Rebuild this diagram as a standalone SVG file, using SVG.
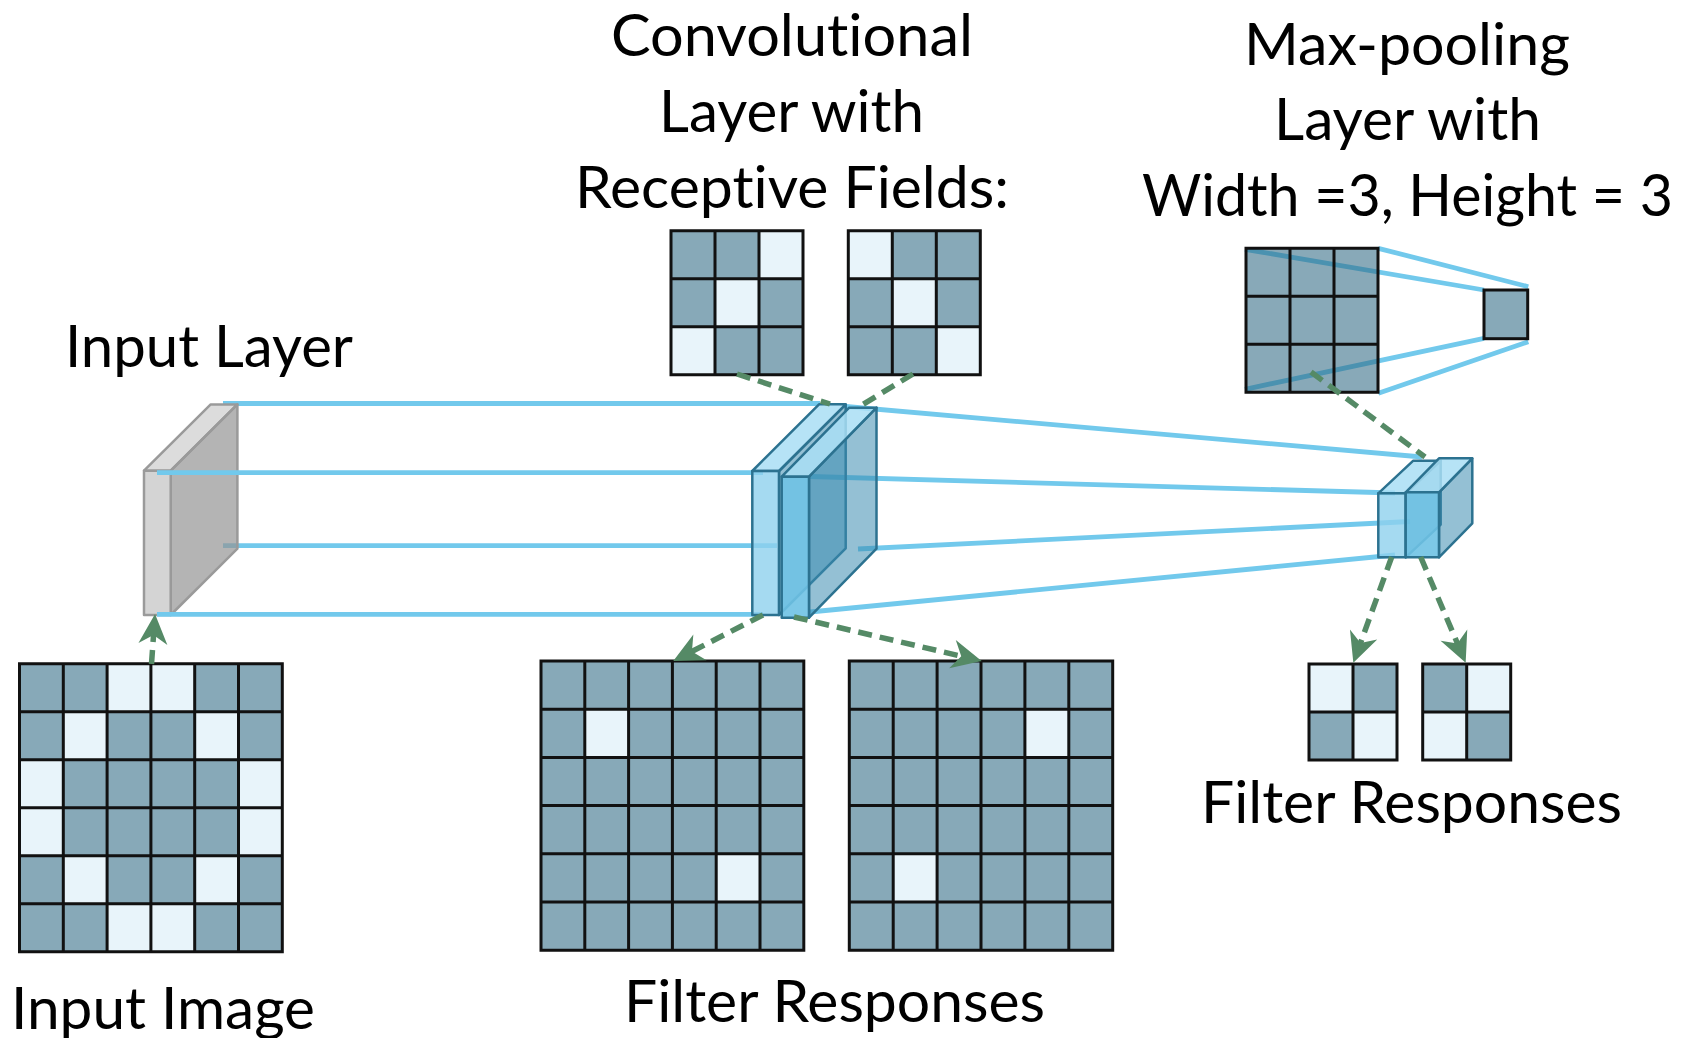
<svg xmlns="http://www.w3.org/2000/svg" width="1692" height="1038" viewBox="0 0 1692 1038">
<style>
text{font-family:Lato,"Liberation Sans",sans-serif;font-size:58px;fill:#000;font-variant-ligatures:none;font-feature-settings:"liga" 0,"clig" 0}
.dk{fill:#87a9b8}
.dkt{fill:#2d6883;fill-opacity:.57}
.lt{fill:#e8f4fa}
.gl{fill:none;stroke:#111;stroke-width:3}
.bl{stroke:#72c9ec;stroke-width:4.8;fill:none}
.gd{stroke:#558a66;stroke-width:5.5;stroke-dasharray:14 8;fill:none}
.arr{marker-end:url(#ah)}
.gr{stroke:#9a9a9a;stroke-width:2.5;stroke-linejoin:round}
.sl{stroke:#2c7290;stroke-width:2.5;stroke-linejoin:round}
.g-top{fill:#dcdcdc}
.g-front{fill:#d4d4d4}
.g-side{fill:#949494;fill-opacity:.7}
.b-side{fill:#3d8db0;fill-opacity:.55}
.b-top{fill:#a9def4;fill-opacity:.85}
.b-front1{fill:#8ed1ee;fill-opacity:.8}
.b-front2{fill:#6fc2e4;fill-opacity:.9}
</style>
<defs>
<marker id="ah" viewBox="-16 -15 34 30" refX="0" refY="0" markerWidth="34" markerHeight="30" markerUnits="userSpaceOnUse" orient="auto">
<path d="M16,0 L-14,-14.5 L-5,0 L-14,14.5Z" fill="#558a66"/>
</marker>
</defs>
<rect width="1692" height="1038" fill="#fff"/>

<!-- blue projection lines that sit behind the layer blocks -->
<g id="links-back">
<path class="bl" d="M223,403.5 H820"/>
<path class="bl" d="M223,545.7 H777"/>
<path class="bl" d="M846,406.5 L1422,457"/>
<path class="bl" d="M810,476.5 L1395,493"/>
<path class="bl" d="M858,549 L1410,521.5"/>
<path class="bl" d="M810,612 L1395,555"/>
<path class="bl" d="M1245,249.3 L1484,290"/>
<path class="bl" d="M1378.3,248.3 L1528.3,286.7"/>
<path class="bl" d="M1245,389.3 L1484,338.3"/>
<path class="bl" d="M1378.3,393.3 L1528.3,341.7"/>
</g>

<!-- input layer block -->
<g id="input-layer">
<polygon class="gr g-top" points="144,470.7 170.7,470.7 237.4,404.4 210.7,404.4"/>
<polygon class="gr g-side" points="170.7,470.7 237.4,404.4 237.4,548.7 170.7,615"/>
<rect class="gr g-front" x="144" y="470.7" width="26.7" height="144.3"/>
</g>

<g id="links-front">
<path class="bl" d="M157,472.7 H763"/>
<path class="bl" d="M157,614.3 H763"/>
</g>

<!-- convolutional layer: two feature-map slabs -->
<g id="conv-layer">
<polygon class="sl b-side" points="779,471 845.7,404.3 845.7,548.3 779,615"/>
<polygon class="sl b-top" points="752.3,471 779,471 845.7,404.3 819,404.3"/>
<rect class="sl b-front1" x="752.3" y="471" width="26.7" height="144"/>
<polygon class="sl b-side" points="809,476.7 876.5,407.7 876.5,548.7 809,617.7"/>
<polygon class="sl b-top" points="781.7,476.7 809,476.7 876.5,407.7 849.2,407.7"/>
<rect class="sl b-front2" x="781.7" y="476.7" width="27.3" height="141"/>
</g>

<!-- max-pooling layer: two small slabs -->
<g id="pool-layer">
<polygon class="sl b-side" points="1405.7,493.3 1440.7,460.7 1440.7,524.7 1405.7,557.3"/>
<polygon class="sl b-top" points="1378.3,493.3 1405.7,493.3 1440.7,460.7 1413.3,460.7"/>
<rect class="sl b-front1" x="1378.3" y="493.3" width="27.4" height="64"/>
<polygon class="sl b-side" points="1439,492.3 1472.3,458.3 1472.3,523.3 1439,557.3"/>
<polygon class="sl b-top" points="1405.7,492.3 1439,492.3 1472.3,458.3 1439,458.3"/>
<rect class="sl b-front2" x="1405.7" y="492.3" width="33.3" height="65"/>
</g>

<!-- input image 6x6 -->
<g id="input-image" transform="translate(19.5,663.7)">
<rect class="dk" width="262.8" height="288"/>
<rect class="lt" x="87.6" y="0" width="43.8" height="48"/>
<rect class="lt" x="131.4" y="0" width="43.8" height="48"/>
<rect class="lt" x="43.8" y="48" width="43.8" height="48"/>
<rect class="lt" x="175.2" y="48" width="43.8" height="48"/>
<rect class="lt" x="0" y="96" width="43.8" height="48"/>
<rect class="lt" x="219" y="96" width="43.8" height="48"/>
<rect class="lt" x="0" y="144" width="43.8" height="48"/>
<rect class="lt" x="219" y="144" width="43.8" height="48"/>
<rect class="lt" x="43.8" y="192" width="43.8" height="48"/>
<rect class="lt" x="175.2" y="192" width="43.8" height="48"/>
<rect class="lt" x="87.6" y="240" width="43.8" height="48"/>
<rect class="lt" x="131.4" y="240" width="43.8" height="48"/>
<path class="gl" d="M0,0H262.8V288H0Z M43.8,0V288 M87.6,0V288 M131.4,0V288 M175.2,0V288 M219,0V288 M0,48H262.8 M0,96H262.8 M0,144H262.8 M0,192H262.8 M0,240H262.8"/>
</g>

<!-- receptive field kernels 3x3 -->
<g id="kernel-1" transform="translate(671,230.7)">
<rect class="dk" width="132" height="144"/>
<rect class="lt" x="88" y="0" width="44" height="48"/>
<rect class="lt" x="44" y="48" width="44" height="48"/>
<rect class="lt" x="0" y="96" width="44" height="48"/>
<path class="gl" d="M0,0H132V144H0Z M44,0V144 M88,0V144 M0,48H132 M0,96H132"/>
</g>
<g id="kernel-2" transform="translate(848.3,230.7)">
<rect class="dk" width="132" height="144"/>
<rect class="lt" x="0" y="0" width="44" height="48"/>
<rect class="lt" x="44" y="48" width="44" height="48"/>
<rect class="lt" x="88" y="96" width="44" height="48"/>
<path class="gl" d="M0,0H132V144H0Z M44,0V144 M88,0V144 M0,48H132 M0,96H132"/>
</g>

<!-- convolution filter responses 6x6 -->
<g id="conv-response-1" transform="translate(541,661)">
<rect class="dk" width="262.8" height="289.2"/>
<rect class="lt" x="43.8" y="48.2" width="43.8" height="48.2"/>
<rect class="lt" x="175.2" y="192.8" width="43.8" height="48.2"/>
<path class="gl" d="M0,0H262.8V289.2H0Z M43.8,0V289.2 M87.6,0V289.2 M131.4,0V289.2 M175.2,0V289.2 M219,0V289.2 M0,48.2H262.8 M0,96.4H262.8 M0,144.6H262.8 M0,192.8H262.8 M0,241H262.8"/>
</g>
<g id="conv-response-2" transform="translate(849.3,661)">
<rect class="dk" width="263.4" height="289.2"/>
<rect class="lt" x="175.6" y="48.2" width="43.9" height="48.2"/>
<rect class="lt" x="43.9" y="192.8" width="43.9" height="48.2"/>
<path class="gl" d="M0,0H263.4V289.2H0Z M43.9,0V289.2 M87.8,0V289.2 M131.7,0V289.2 M175.6,0V289.2 M219.5,0V289.2 M0,48.2H263.4 M0,96.4H263.4 M0,144.6H263.4 M0,192.8H263.4 M0,241H263.4"/>
</g>

<!-- pooling window 3x3 and its pooled cell -->
<g id="pool-window" transform="translate(1246,248.3)">
<rect class="dkt" width="132" height="144"/>
<path class="gl" d="M0,0H132V144H0Z M44,0V144 M88,0V144 M0,48H132 M0,96H132"/>
</g>
<g id="pool-cell">
<rect class="dk" x="1484" y="290" width="43.7" height="48.7"/>
<rect class="gl" x="1484" y="290" width="43.7" height="48.7"/>
</g>

<!-- pooled filter responses 2x2 -->
<g id="pool-response-1" transform="translate(1309,664)">
<rect class="dk" width="88" height="96"/>
<rect class="lt" x="0" y="0" width="44" height="48"/>
<rect class="lt" x="44" y="48" width="44" height="48"/>
<path class="gl" d="M0,0H88V96H0Z M44,0V96 M0,48H88"/>
</g>
<g id="pool-response-2" transform="translate(1422.7,664)">
<rect class="dk" width="88" height="96"/>
<rect class="lt" x="44" y="0" width="44" height="48"/>
<rect class="lt" x="0" y="48" width="44" height="48"/>
<path class="gl" d="M0,0H88V96H0Z M44,0V96 M0,48H88"/>
</g>

<!-- dashed pointers -->
<g id="connectors">
<path class="gd arr" d="M151.5,664 L153.9,630"/>
<path class="gd" d="M737,374 L830,404"/>
<path class="gd" d="M913,374 L862,405"/>
<path class="gd arr" d="M763,615 L687.5,653.7"/>
<path class="gd arr" d="M794,617 L966.1,657.3"/>
<path class="gd" d="M1311,372 L1425,457"/>
<path class="gd arr" d="M1391.7,557 L1358.8,647.7"/>
<path class="gd arr" d="M1420.7,557 L1459.4,648"/>
</g>

<!-- labels -->
<g id="labels">
<text x="611" y="56" textLength="362" lengthAdjust="spacingAndGlyphs">Convolutional</text>
<text x="659" y="131.5" textLength="265" lengthAdjust="spacingAndGlyphs">Layer with</text>
<text x="575" y="207.5" textLength="434" lengthAdjust="spacingAndGlyphs">Receptive Fields:</text>
<text x="1244" y="64.5" textLength="326" lengthAdjust="spacingAndGlyphs">Max-pooling</text>
<text x="1274" y="140" textLength="267" lengthAdjust="spacingAndGlyphs">Layer with</text>
<text x="1142" y="215.5" textLength="531" lengthAdjust="spacingAndGlyphs">Width =3, Height = 3</text>
<text x="65" y="367" textLength="288" lengthAdjust="spacingAndGlyphs">Input Layer</text>
<text x="11" y="1029" textLength="304" lengthAdjust="spacingAndGlyphs">Input Image</text>
<text x="624" y="1022" textLength="421" lengthAdjust="spacingAndGlyphs">Filter Responses</text>
<text x="1201" y="823" textLength="421" lengthAdjust="spacingAndGlyphs">Filter Responses</text>
</g>
</svg>
